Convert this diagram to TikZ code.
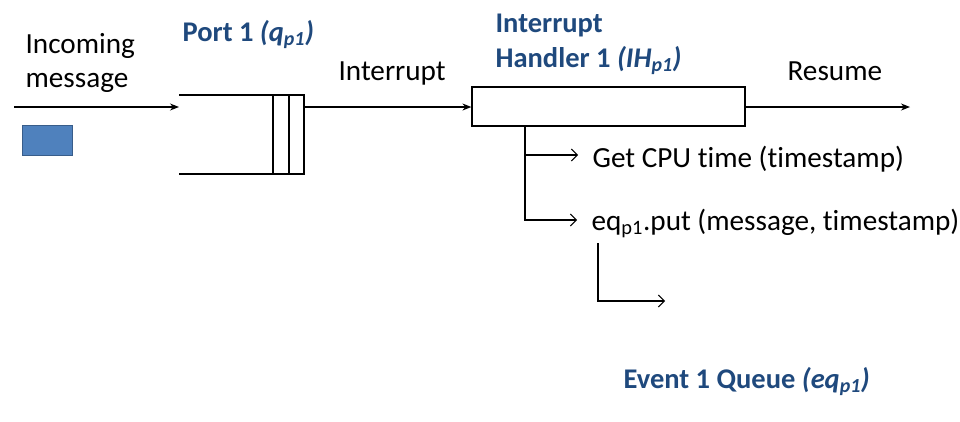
\documentclass[tikz,border=0pt]{standalone}
\usepackage{fontspec}
\setmainfont{Carlito}[Ligatures=NoCommon]
\usetikzlibrary{arrows.meta,positioning}
\definecolor{ttlBlue}{HTML}{1F497D}
\definecolor{msgBlue}{HTML}{4F81BD}
\definecolor{msgEdge}{HTML}{385D8A}

\begin{document}
\begin{tikzpicture}[x=1pt,y=-1pt,line width=1.2pt,
    txt/.style={inner sep=0pt,font=\fontsize{29.2}{34}\selectfont},
    ttl/.style={txt,font=\fontsize{28.5}{35}\selectfont\bfseries,text=ttlBlue},
    arr/.style={-{Stealth[length=9pt,width=7pt]}},
    barb/.style={-{Straight Barb[length=6pt,width=12pt,line width=1pt]}}]
  \useasboundingbox (0,0) rectangle (960,421);
  % message and port queue
  \coordinate (in) at (14,107);
  \coordinate (qin) at (179,107);
  \coordinate (qout) at (304,107);
  \node[txt,anchor=base west,align=left] (inc) at (25,87) {Incoming\\message};
  \node[draw=msgEdge,fill=msgBlue,line width=1.5pt,minimum width=50pt,minimum height=30pt,inner sep=0pt] (msg) at (47.5,140.5) {};
  \node[ttl,anchor=base west] (port) at (182,41) {Port 1 \textit{(q\textsubscript{p1})}};
  \draw (179,95) -- (304,95) -- (304,174) -- (179,174);
  \draw (273,95) -- (273,174) (289,95) -- (289,174);
  \draw[arr] (in) -- (qin);
  % interrupt handler
  \node[draw,minimum width=273pt,minimum height=39pt,inner sep=0pt] (ih) at (608.5,106.5) {};
  \node[ttl,anchor=base west,align=left] (ihl) at (495,67) {Interrupt\\Handler 1 \textit{(IH\textsubscript{p1})}};
  \node[txt,anchor=base west] (intr) at (338,80) {Interrupt};
  \node[txt,anchor=base west] (res) at (787,80) {Resume};
  \coordinate (out) at (910,107);
  \draw[arr] (qout) -- (ih.west |- qout);
  \draw[arr] (ih.east |- out) -- (out);
  % handler steps
  \coordinate (br) at (525,126);
  \node[txt,anchor=base west] (cpu) at (592,167) {Get CPU time (timestamp)};
  \node[txt,anchor=base west] (put) at (591,230) {eq\textsubscript{p1}.put (message, timestamp)};
  \draw[barb] (br) |- ([xshift=-14pt,yshift=12pt]cpu.base west);
  \draw[barb] (br) |- ([xshift=-14pt,yshift=10pt]put.base west);
  \coordinate (l1) at (598,243);
  \coordinate (l2) at (665,301);
  \draw[barb] (l1) |- (l2);
  \node[ttl,anchor=base west] (evq) at (623,388) {Event 1 Queue \textit{(eq\textsubscript{p1})}};
\end{tikzpicture}
\end{document}
